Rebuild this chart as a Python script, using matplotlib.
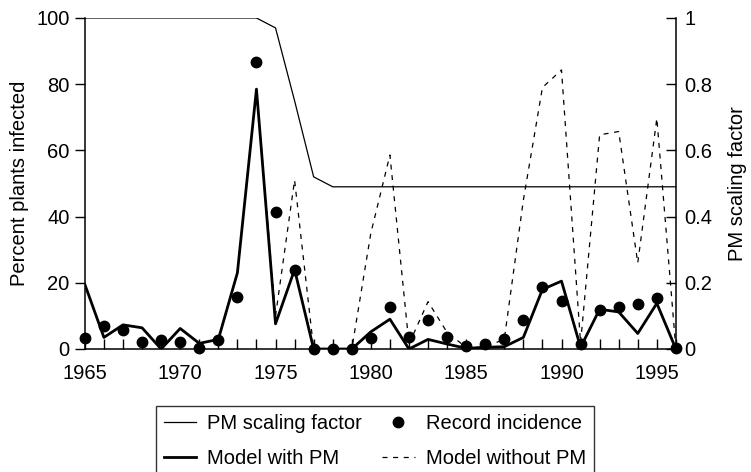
import numpy as np
import matplotlib
matplotlib.use("Agg")
import matplotlib.pyplot as plt
from matplotlib.ticker import MultipleLocator, FixedLocator

plt.rcParams["font.family"] = ["Liberation Sans", "DejaVu Sans"]

# Data
years = list(range(1965, 1997))

pm_factor = [1, 1, 1, 1, 1, 1, 1, 1, 1, 1,
             0.97, 0.75, 0.52, 0.49, 0.49, 0.49, 0.49, 0.49, 0.49, 0.49,
             0.49, 0.49, 0.49, 0.49, 0.49, 0.49, 0.49, 0.49, 0.49, 0.49,
             0.49, 0.49]

model_pm = [19.5, 3.5, 7.3, 6.4, 0, 6.2, 1.7, 2.9, 23, 78.5,
            7.6, 24, 0, 0, 0, 5.2, 9.0, 0, 2.9, 1.5,
            0.2, 0.5, 0.7, 3.5, 18, 20.5, 0.5, 12, 11.2, 4.7,
            13.8, 0]

model_no_pm = [19.5, 3.5, 7.3, 6.4, 0, 6.2, 1.7, 2.9, 23, 78.5,
               10, 51, 0, 0, 0, 35, 58.6, 1.5, 14.3, 5,
               0.5, 0.5, 3, 45, 79, 84.3, 1.8, 64.7, 65.7, 26,
               69.7, 0]

record = [3.2, 7, 5.8, 2.2, 2.7, 2.2, 0.3, 2.8, 15.8, 86.8,
          41.5, 24, 0, 0, 0, 3.2, 12.8, 3.5, 8.8, 3.5,
          0.9, 1.4, 2.9, 8.8, 18.8, 14.6, 1.4, 11.8, 12.6, 13.6,
          15.3, 0.2]

FS = 14.5

# Figure
fig = plt.figure(figsize=(7.51, 4.72), dpi=100)
ax = fig.add_axes([0.113, 0.2606, 0.787, 0.7013])
ax2 = ax.twinx()

ax.plot(years, model_no_pm, c="k", lw=0.9, ls=(0, (4, 4.5)), zorder=2,
        label="Model without PM")
ax.plot(years, model_pm, c="k", lw=2.0, zorder=3, label="Model with PM")
ax.plot(years, record, ls="none", marker="o", ms=7.5, c="k", zorder=4,
        clip_on=False, label="Record incidence")
ax2.plot(years, pm_factor, c="k", lw=0.9, label="PM scaling factor")

ax.set_xlim(1965, 1996)
ax.set_ylim(0, 100)
ax2.set_ylim(0, 1)

ax.xaxis.set_major_locator(MultipleLocator(5))
ax.xaxis.set_minor_locator(MultipleLocator(1))
ax.yaxis.set_major_locator(MultipleLocator(20))
ax2.yaxis.set_major_locator(FixedLocator([0, 0.2, 0.4, 0.6, 0.8, 1.0]))
ax2.set_yticklabels(["0", "0.2", "0.4", "0.6", "0.8", "1"])

ax.tick_params(axis="x", which="both", direction="in", length=7, width=1,
               labelsize=FS, pad=11)
ax.tick_params(axis="y", direction="out", length=7, width=1, labelsize=FS,
               pad=4)
ax2.tick_params(axis="y", direction="in", length=7, width=1, labelsize=FS,
                pad=6)

for a in (ax, ax2):
    a.spines["top"].set_visible(False)
    for s in a.spines.values():
        s.set_linewidth(1.1)
ax.spines["right"].set_visible(False)
ax2.spines["left"].set_visible(False)
ax2.spines["bottom"].set_visible(False)

ax.set_ylabel("Percent plants infected", fontsize=FS, labelpad=5)
ax2.set_ylabel("PM scaling factor", fontsize=FS, labelpad=11)

# Legend below the plot
h1, l1 = ax.get_legend_handles_labels()
h2, l2 = ax2.get_legend_handles_labels()
handles = {l: h for h, l in zip(h1 + h2, l1 + l2)}
order = ["PM scaling factor", "Model with PM", "Record incidence", "Model without PM"]
leg = fig.legend([handles[k] for k in order], order, ncol=2,
                 loc="upper left", bbox_to_anchor=(0.2077, 0.14),
                 borderaxespad=0, fontsize=FS, frameon=True, fancybox=False,
                 handlelength=1.6, labelspacing=0.8, columnspacing=1.0,
                 borderpad=0.4, handletextpad=0.55)
leg.get_frame().set_edgecolor("k")
leg.get_frame().set_linewidth(1.0)

fig.savefig("out.png", dpi=100)
